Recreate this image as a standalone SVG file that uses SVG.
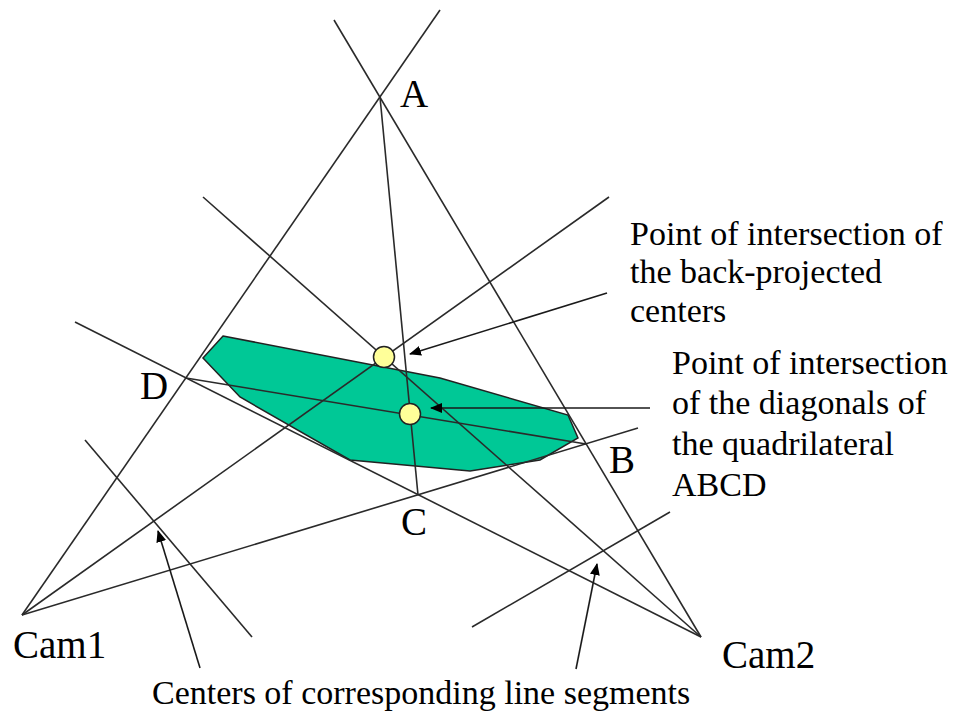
<svg xmlns="http://www.w3.org/2000/svg" width="957" height="718" viewBox="0 0 957 718">
<style>
.ln{stroke:#2a2a2a;stroke-width:1.6;fill:none}
.ar{stroke:#1a1a1a;stroke-width:1.6;fill:none;marker-end:url(#ah)}
.pt{fill:#ffff99;stroke:#222;stroke-width:1.5}
</style>
<defs>
<marker id="ah" viewBox="0 0 12 10" refX="11" refY="5" markerWidth="12" markerHeight="10" markerUnits="userSpaceOnUse" orient="auto">
<path d="M0,0 L12,5 L0,10 Z" fill="#000"/>
</marker>
</defs>
<rect width="957" height="718" fill="#fff"/>
<g id="region">
<polygon points="223,336 440,378 568,415 578,438 540,460 470,471 350,460 240,397 203,358" fill="#00c896" stroke="#222" stroke-width="1.5"/>
</g>
<g id="connectors">
<line class="ln" x1="22" y1="615" x2="440" y2="10"/>
<line class="ln" x1="22" y1="615" x2="609" y2="197"/>
<line class="ln" x1="22" y1="615" x2="638" y2="428"/>
<line class="ln" x1="701" y1="637" x2="334" y2="20"/>
<line class="ln" x1="701" y1="637" x2="75" y2="322"/>
<line class="ln" x1="701" y1="637" x2="203" y2="197"/>
<line class="ln" x1="380" y1="97" x2="418" y2="495"/>
<line class="ln" x1="186" y1="378" x2="586" y2="444"/>
<line class="ln" x1="85" y1="440" x2="252" y2="637"/>
<line class="ln" x1="472" y1="627" x2="670" y2="512"/>
<line class="ar" x1="607" y1="293" x2="410" y2="354"/>
<line class="ar" x1="650" y1="408" x2="431" y2="408"/>
<line class="ar" x1="200" y1="668" x2="158" y2="531"/>
<line class="ar" x1="576" y1="669" x2="597" y2="564"/>
</g>
<g id="point-backprojected"><circle class="pt" cx="384" cy="357" r="10.5"/></g>
<g id="point-diagonals"><circle class="pt" cx="410" cy="414" r="10.5"/></g>
<g id="labels" font-family="'Liberation Serif', 'Times New Roman', 'DejaVu Serif', serif" fill="#000">
<g font-size="39">
<text x="400" y="107">A</text>
<text x="609" y="473">B</text>
<text x="401" y="535">C</text>
<text x="140" y="399">D</text>
<text x="13" y="658">Cam1</text>
<text x="722" y="668">Cam2</text>
</g>
<g font-size="34">
<text x="630" y="245">Point of intersection of</text>
<text x="630" y="283">the back-projected</text>
<text x="630" y="322">centers</text>
<text x="672" y="374">Point of intersection</text>
<text x="672" y="414">of the diagonals of</text>
<text x="672" y="455">the quadrilateral</text>
<text x="672" y="496">ABCD</text>
<text x="152" y="704">Centers of corresponding line segments</text>
</g>
</g>
</svg>
